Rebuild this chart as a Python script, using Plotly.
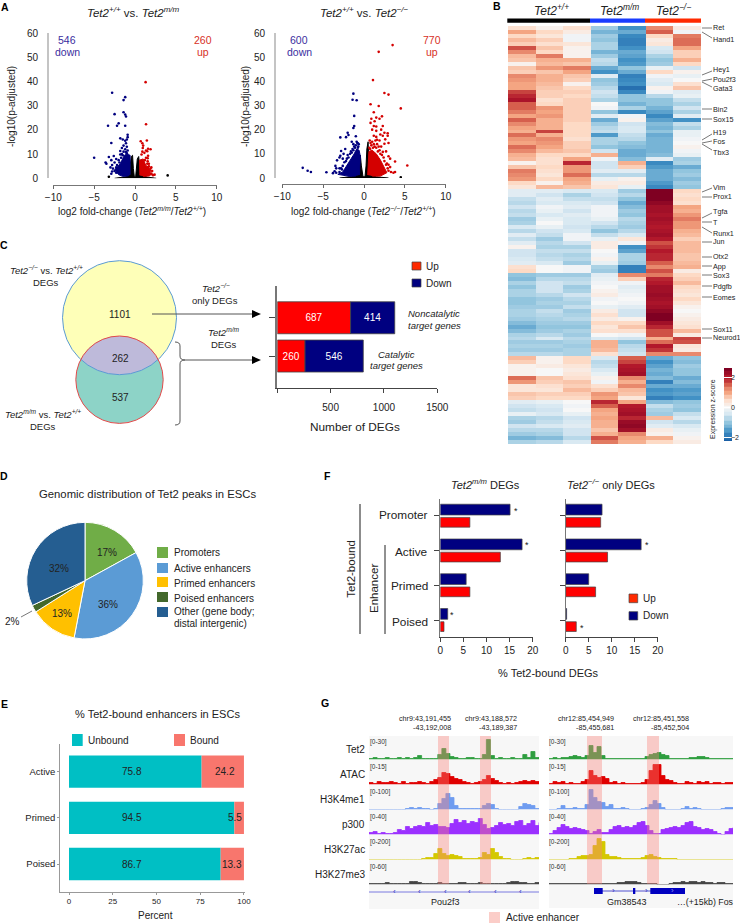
import numpy as np
import plotly.graph_objects as go

W, H = 740, 923
FONT = "Liberation Sans"
INK = "#222222"
RED = "#ff0000"
NAVY = "#000080"

# Panel A: volcano plots, dense cores are read as outlines, the rest as single points
v1_black_x = [-2.5, -1.2, -0.6, -0.6, -0.45, -0.3, -0.2, -0.08, 0.08, 0.2, 0.28, 0.45, 0.55, 0.55, 1.5, 2.6]
v1_black_y = [0, 0.6, 1.5, 5, 9, 9.5, 4, 0.6, 0.6, 4, 8, 9, 6, 1.5, 0.5, 0]
v1_blue_x = [-0.6, -0.6, -1.0, -1.3, -1.8, -2.5, -2.0, -1.5, -0.8]
v1_blue_y = [1.5, 9.5, 10, 9.5, 6, 3.5, 1.5, 0.8, 1]
v1_red_x = [0.6, 0.55, 1.0, 1.3, 1.9, 1.8, 1.0]
v1_red_y = [1.2, 7.5, 8, 5.5, 3.5, 1, 0.8]
v1_down_x = [-5, -2.8, -1.2, -1.4, -1.4, -1.2, -2.5, -1.1, -2.0, -2.2, -3.3, -1.2, -2.9, -1.8, -1.5, -0.9, -0.9, -1, -1.2, -1.1,
             -1.4, -1, -1.2, -1.6, -0.9, -1.4, -1.8, -1.1, -3.2, -2.6, -2.9, -3.6, -3.5, -2.3, -2.0, -2.5, -2.8, -2.2, -1.9, -3,
             -2.7, -2.3, -2.5, -2.8, -1.7, -1.5, -1.8, -2.1, -2.9, -2.3, -1.6, -1.0]
v1_down_y = [8.5, 35.3, 33.5, 32.3, 27.3, 26.3, 26.5, 25.5, 22.7, 21.7, 21.7, 21.7, 14.6, 16.5, 16, 18, 17, 16, 15.5, 14.5,
             13.5, 13, 12, 12.5, 11.5, 11, 11.3, 10.8, 8.8, 9.2, 7.5, 6.5, 6, 8, 7.5, 6.5, 5.5, 5.5, 6.5, 4.5,
             4, 4.5, 3, 2.8, 8.5, 9.5, 9.8, 4, 1.9, 2.3, 10, 10.3]
v1_up_x = [1.3, 1.35, 0.7, 1.45, 0.9, 1, 0.95, 1.6, 1.9, 1.35, 1.5, 0.9, 1.15, 0.8, 1.6, 1.35, 1.55, 1.2, 1.55, 1.7,
           1.5, 2, 1.9, 1.6, 2.1, 2, 2.4, 2.2, 1.9, 1.7]
v1_up_y = [39.7, 22.3, 15.3, 15.6, 14.5, 13.5, 12.5, 12.2, 12, 11.5, 11.2, 11, 10.5, 9.8, 9.3, 8.5, 8.3, 7.5, 7, 6,
           6, 4.5, 4, 4.6, 3, 2, 1.5, 1.3, 1.7, 5]
v1_ns_x = [4, -3.2]
v1_ns_y = [1.2, 0.6]

v2_black_x = [-3, -1.5, -0.6, -0.55, -0.45, -0.32, -0.12, 0.12, 0.25, 0.35, 0.5, 0.6, 0.5, 1.5, 3]
v2_black_y = [0, 0.6, 1.3, 6, 9.5, 5, 0.5, 0.5, 5, 12, 15, 6, 1.2, 0.5, 0]
v2_blue_x = [-0.55, -0.45, -0.6, -0.9, -1.2, -1.7, -2.2, -2.6, -3.2, -1.8, -1]
v2_blue_y = [1.2, 9, 11.5, 12, 10, 7.5, 5, 2.5, 1.5, 0.7, 0.8]
v2_red_x = [0.45, 0.55, 0.6, 1.0, 1.5, 2.0, 2.4, 2.8, 2, 1]
v2_red_y = [1.2, 8, 11, 11.5, 10, 7.5, 4.5, 2.2, 0.8, 0.8]
v2_down_x = [-7.5, -6.9, -6.5, -4.6, -1.3, -1.4, -0.9, -1.2, -1.2, -1.3, -2.9, -2, -1.9, -2.2, -1.0, -1.5, -1.3, -0.8, -2.3, -2.8,
             -2.5, -3, -2.9, -2.6, -2.0, -3.3, -2.2, -3.5, -3.4, -3, -2.7, -3.8, -3.6, -3.4, -3,
             -0.7, -0.8, -0.9, -0.65, -1, -1.1, -1.3, -1.5, -1.7, -1.9, -2.1, -1.2, -0.75, -1.4, -2.4, -2.6, -2.8, -1.6]
v2_down_y = [4.2, 3, 2.5, 2.4, 34.9, 32.4, 32.2, 25.7, 21.5, 20.7, 16.8, 18.7, 17.8, 16.9, 17.3, 15, 14, 14.5, 12, 11.2,
             10, 8.5, 9.2, 8, 9.5, 7.3, 7, 5, 4, 4, 3.5, 2, 2.8, 2.2, 2.5,
             13, 14.5, 15, 14, 13.5, 12.5, 11.5, 10.5, 10, 8.5, 8, 13, 12.5, 12, 6.5, 5, 4, 11]
v2_up_x = [3.5, 1.8, 1.1, 2.5, 3, 4.5, 0.8, 1.8, 1.2, 0.9, 1.5, 2.2, 1.9, 0.8, 1.3, 1.2, 1.5, 2.3, 2.1, 1,
           1.5, 1.2, 2, 2.5, 2.9, 2.9, 2.3, 2.6, 3, 2.5, 1.5, 1.9, 2.1, 2.7, 3, 3.2, 3.8, 5.3, 3.2, 3.8,
           3.6, 3.3, 3, 2.8, 0.7, 0.8, 1, 0.9, 1.2, 1.4, 1.6, 1.1, 1.5, 1.8, 1.9, 0.65, 1.3, 2, 2.2, 2.4,
           2.5, 2.7, 2.9, 3, 1.7, 2.3, 1.6, 0.75]
v2_up_y = [55, 52.2, 40.5, 35.2, 34.5, 28.8, 30.5, 29.8, 27.2, 24.5, 25, 25.5, 24.5, 22.8, 23.5, 21.5, 21.3, 21.5, 20, 20,
           19.5, 17.5, 18, 18.7, 18.5, 17.5, 17.5, 16, 14.5, 14.2, 17, 15.5, 13, 11, 9, 8, 6.8, 5.2, 4.5, 2.5,
           2.2, 2.5, 3, 6, 15.5, 14.5, 15, 13.5, 14, 15.5, 14, 12.5, 12.5, 13, 11.5, 12.5, 13, 10, 9.5, 8.5,
           7, 5.5, 4, 5.5, 11, 10.8, 15.8, 12]
v2_ns_x = [4.5]
v2_ns_y = [0.3]

# Panel B: z-scores per column, top row first
wt1 = [.4, 1.0, .5, .8, .6, 1.6, 1.2, .8, .7, .1, .7, .6, 1.2, 1.1, 1.0, 1.0, 1.7, 1.9, 2.1, 1.5, 1.5, 1.3, 1.0, 1.5, 1.2, 1.0, .9, 1.4, 1.1, 1.0,
       1.4, 1.2, .9, .8, .1, .7, 1.3, 1.2, 1.1, .5, .3, -.3, -.3, -.6, -.7, -.5, -.7, -.6, -.9, -.8,
       -.4, -.7, -.3, -.6, -.3, .1, -.5, -.5, -.4, -.3, .4, .5, -1.0, -1.1, -.8, -1.0, -.8, -.8, -1, -1, -.9, -.8, -.8, -.9, -1.1, -1.3, -1.1, -.8, -.7, -.9,
       -.8, -.9, -.7, .8, .6, .1, .1, .1, 1.4, 1.1, .3, .3, .7, .6, -.3, -.5, -.6, -.2, -.8, -.9, -.5, -.7, -.9, -1.2, -.8]
wt2 = [.1, .5, .3, .6, .4, .7, .5, 1.3, .9, .8, 1.1, .7, .9, .9, .8, .7, .6, .6, .4, .5, 1.1, 1.0, 1.1, .9, .9, .9, 1.7, .9, 1.2, 1.1,
       1.0, .8, .5, .4, .4, .5, .4, .3, .5, .1, .8, -.3, -.5, -.3, -.4, -.1, -.2, -.4, -.2, 0,
       -.2, -.5, -.6, -.9, -.7, -.8, -.6, -.7, -.6, -.4, 0, 0, -.9, -.7, -.5, -.5, -.5, -.7, -.9, -.8, -.9, -.6, -.7, -.8, -.9, -1.0, -.9, -.7, -.4, -.9,
       -.8, -.9, -.7, .1, .1, .2, 0, 0, .7, .6, .4, .3, .6, .5, -.2, -.4, -.5, -.4, -.7, -.6, -.4, -.7, -.8, -1.1, -.7]
wt3 = [.4, .2, -.1, -.1, .3, .1, .1, .1, .9, .7, 1.3, 1.0, .7, .6, .1, .5, .6, .5, .6, .6, .6, .6, .6, .6, .5, .5, .5, .5, .4, .6,
       .6, .7, .5, 1.0, 1.9, 1.1, 1.1, 1.4, 1.0, .9, .7, -.4, -.8, -.6, -.4, -.3, -.5, -.3, -.4, -.4,
       -.5, -.4, -.1, -.1, -.5, -.8, -.6, -.8, -.7, -.9, -.1, -.1, -.9, -.7, -.6, -.9, -.8, -.5, -.7, -.8, -.6, -.9, -.8, -.7, -.9, -1, -.8, -.9, -.7, -.8,
       -.9, -.8, -.8, .5, .5, .3, .2, .3, .4, .7, .6, .8, .6, .5, 0, -.1, 0, -.2, -.5, -.4, -.3, -.5, -.5, -.7, -.4]
mm1 = [-.9, -1.2, -.9, -1, -.8, -.8, -1.2, -.9, -.6, -.7, -1.3, -1.6, -.3, -1.0, -.9, -.7, -.5, -.6, -.8, 0, -.1, -1.0, -.3, -1.3, -.9, -.7, -.6, -1.5, -.8, -.8,
       -1, -.5, .9, -.1, -.5, -.5, -.3, -.7, -.2, .2, .3, -.4, -.5, -.6, -.5, -.1, -.1, -.1, -.2, -.5,
       -.7, -1, -.6, -.2, .2, .2, 0, -.1, .1, -.2, -.8, -.9, -.3, -.2, -.1, 0, .1, .2, -.1, 0, -.2, .2, .4, .2, .5, .3, .4, 0, -.4, .9,
       .9, .8, .4, -.4, -.7, -.6, -.4, -.2, .1, -.1, .4, .6, 1.1, 1.0, 1.9, 1.5, 1, .9, 1, .9, .9, .7, .9, 1.6, 1.3]
mm2 = [-1.6, -1.3, -1.7, -1.8, -1.8, -1.6, -1.3, -1.4, -1.6, -1.5, -1, -1.3, -1.8, -1.7, -1.6, -2, -1.7, -1, -1, -1.2, -.8, -1.7, -.1, .1, -.5, -.4, -.4, -.6, -.7, -1,
       -1.1, -1.3, -1.3, -1.1, .9, .6, -.3, -.7, .1, .2, -.2, -.9, -.7, -1, -1.3, -1.1, -.9, -1, -.7, -.8,
       -.9, -.7, -.4, .3, -.1, -1.6, -1.4, -.8, -.8, -.9, -1.8, -1.8, 1.2, .6, -.1, -.3, -.2, -.1, 0, -.1, -.3, -.5, -.5, .1, .5, .7, .4, -.1, -.5, -1.0,
       -.7, -.6, -.5, 1.5, 1.7, 2.0, 2.1, 2.2, 1.2, .9, 1.2, .8, .7, .3, 1, 2.0, 2.1, 2.2, 1.9, 2.3, 2.4, 2.2, 1.2, 1, .9]
ko1 = [1.2, 1.5, .5, .2, .3, -.4, -.5, -.8, -1, -.9, -.2, .5, -.1, -.3, -.4, .1, -.1, -.7, -1, -1, -1.2, -1.4, -1.7, -1.4, -1.1, -1.2, -1, -1.3, -1.2, -1.2,
       -1.2, -1.2, -1.1, -.3, -1.7, -1.5, -1.3, -1.3, -1.3, -1.5, -1.7, 2.6, 2.6, 2.6, 2.4, 2.2, 2.2, 2.1, 2.2, 2.1,
       2.0, 2.1, 2.2, 2.0, 1.6, 1.8, 2.0, 1.9, 1.9, 1.5, 1.2, 1.6, 1.3, 1.9, 2.0, 2.2, 2.2, 2.3, 2.2, 2.1, 2.2, 2.4, 2.6, 2.6, 2.2, 1.9, 1.6, 1.6, .9, 1.4,
       2.0, 1.8, 1.2, -1.3, -1.6, -1.4, -1.2, -1.3, -1.1, -1.8, -1.3, -1.6, -1.5, -1.8, -1.1, -.6, -.8, -.9, .8, -.5, -.3, .2, .1, .9, .5]
ko2 = [.2, -.1, 1.3, 1.4, 1.4, 1.0, .6, .6, .9, .5, -.5, .1, -.2, 0, .4, .7, -.3, -.2, -.6, -.8, -.5, -.8, -.3, -1.6, -.6, -.8, -.2, -.2, -.1, 0,
       .1, -.1, -.2, -.9, -.8, -1.3, -1.0, -.9, -1.1, -.9, -1, .5, .4, .5, .4, 1, .9, 1.1, 1.3, 1.1,
       1.1, .9, .8, .6, .8, .8, .8, .7, .7, .8, .9, .2, .5, .6, .8, .5, .4, .3, .5, .3, .1, 0, .1, .2, .3, .4, .8, .2, 1.7, 1.6,
       .3, .2, 1.2, -1, -1.1, -.9, -1, -1, -1.3, -1.1, -1.3, -1.5, -1.4, -1.6, -1, -.9, -1, -.6, -.4, -.7, -.4, -.2, -.1, .1, .2]
heat_genes = ["Ret", "Hand1", "Hey1", "Pou2f3", "Gata3", "Bin2", "Sox15", "H19", "Fos", "Tbx3", "Vim", "Prox1", "Tgfa", "T",
              "Runx1", "Jun", "Otx2", "App", "Sox3", "Pdgfb", "Eomes", "Sox11", "Neurod1"]
scale_levels = [-2.2, -2.0, -1.8, -1.5, -1.2, -1.0, -0.7, -0.4, -0.2, 0, 0.2, 0.4, 0.7, 1.0, 1.2, 1.5, 1.8, 2.0, 2.3, 2.6]
scale_ticks = [-2, 0, 2]

# Panel C
c_groups = ["Catalytic", "Noncatalytic"]
c_up = [260, 687]
c_down = [546, 414]

# Panel D
pie_labels = ["Promoters", "Active enhancers", "Primed enhancers", "Poised enhancers", "Other (gene body;<br>distal intergenic)"]
pie_values = [17, 36, 13, 2, 32]
pie_colors = ["#70ad47", "#5b9bd5", "#ffc000", "#43682b", "#255e91"]

# Panel E
e_labels = ["Poised", "Primed", "Active"]
e_unbound = [86.7, 94.5, 75.8]
e_bound = [13.3, 5.5, 24.2]

# Panel F
f_labels = ["Poised", "Primed", "Active", "Promoter"]
f_mm_down = [1.6, 5.6, 17.7, 15.1]
f_mm_up = [0.8, 6.4, 13, 6.4]
f_ko_down = [0.2, 5, 16.4, 7.9]
f_ko_up = [2.3, 6.5, 9.1, 7.6]

# Panel G: signal height per 4 px bin
track_names = ["Tet2", "ATAC", "H3K4me1", "p300", "H3K27ac", "H3K27me3"]
track_ranges = ["[0-30]", "[0-15]", "[0-100]", "[0-40]", "[0-200]", "[0-60]"]
track_colors = ["#2e9e3f", "#e00000", "#6f9cf0", "#9b30ff", "#d4c800", "#444444"]
tet2_left = [1, 2, 1, 1, 2, 1, 1, 2, 1, 2, 1, 2, 4, 1, 1, 1, 1, 5, 11, 6, 3, 2, 1, 1, 2, 2, 1, 1, 5, 20, 4, 1, 2, 1, 1, 2, 1, 1, 5, 2, 8, 2, 1]
atac_left = [2, 1, 3, 2, 2, 3, 2, 1, 3, 1, 2, 2, 3, 2, 1, 3, 5, 7, 12, 11, 8, 6, 5, 3, 2, 1, 2, 3, 5, 9, 6, 4, 2, 1, 2, 1, 2, 3, 4, 3, 4, 3, 3]
k4me1_left = [0, 0, 0, 0, 0, 0, 0, 0, 0, 1, 2, 1, 2, 1, 1, 0, 1, 6, 11, 16, 12, 4, 1, 1, 1, 1, 1, 1, 4, 6, 5, 1, 0, 0, 0, 0, 0, 3, 6, 5, 4, 1, 1]
p300_left = [2, 3, 1, 2, 1, 1, 2, 5, 4, 8, 6, 8, 9, 8, 12, 9, 10, 8, 8, 7, 11, 15, 12, 14, 11, 13, 12, 16, 10, 6, 7, 9, 12, 10, 11, 9, 13, 14, 9, 11, 14, 9, 12]
k27ac_left = [0, 0, 0, 0, 0, 0, 0, 0, 0, 0, 0, 0, 0, 1, 2, 2, 6, 11, 6, 4, 5, 4, 3, 1, 1, 1, 1, 2, 7, 5, 11, 7, 3, 1, 1, 0, 0, 0, 1, 2, 1, 2, 1]
k27me3_left = [1, 1, 1, 1, 2, 1, 1, 1, 1, 1, 3, 3, 2, 1, 1, 1, 1, 2, 1, 1, 1, 1, 2, 2, 1, 1, 1, 2, 1, 1, 1, 1, 1, 1, 2, 3, 3, 2, 2, 1, 1, 2, 1]
tet2_right = [1, 2, 1, 2, 2, 3, 4, 3, 2, 4, 14, 7, 13, 4, 1, 1, 1, 1, 1, 1, 1, 1, 1, 1, 3, 5, 6, 7, 5, 4, 1, 1, 1, 1, 1, 2, 2, 3, 3, 2, 1, 1, 1, 1, 1, 1, 1]
atac_right = [1, 3, 2, 3, 1, 2, 1, 1, 3, 5, 14, 9, 7, 8, 6, 2, 3, 1, 2, 1, 1, 1, 1, 2, 5, 14, 20, 20, 9, 5, 4, 2, 1, 1, 3, 2, 1, 3, 2, 3, 1, 2, 2, 1, 2, 2, 1]
k4me1_right = [0, 0, 1, 4, 1, 1, 2, 1, 1, 5, 20, 12, 8, 7, 3, 5, 1, 1, 2, 1, 0, 0, 0, 1, 2, 5, 9, 6, 2, 0, 0, 0, 0, 1, 3, 1, 2, 1, 0, 0, 0, 0, 0, 1, 2, 2, 1]
p300_right = [1, 4, 7, 10, 8, 6, 7, 6, 5, 4, 1, 3, 5, 2, 2, 5, 8, 9, 7, 8, 7, 9, 12, 13, 9, 4, 1, 1, 5, 6, 7, 8, 7, 9, 12, 13, 8, 7, 5, 6, 5, 3, 1, 0, 3, 6, 7]
k27ac_right = [0, 0, 0, 0, 0, 1, 1, 3, 4, 4, 5, 14, 21, 18, 5, 3, 3, 2, 1, 1, 1, 1, 1, 2, 4, 5, 3, 2, 1, 1, 1, 1, 0, 0, 0, 0, 0, 0, 0, 0, 0, 0, 0, 0, 0, 0, 0]
k27me3_right = [1, 1, 1, 1, 1, 1, 1, 1, 1, 1, 1, 1, 1, 1, 1, 1, 1, 2, 2, 3, 3, 3, 2, 1, 1, 1, 1, 0, 0, 0, 1, 2, 2, 3, 2, 3, 3, 2, 3, 2, 2, 1, 2, 2, 1, 1, 1]
left_tracks = [tet2_left, atac_left, k4me1_left, p300_left, k27ac_left, k27me3_left]
right_tracks = [tet2_right, atac_right, k4me1_right, p300_right, k27ac_right, k27me3_right]


def fx(x):
    return x / W


def fy(y):
    return 1 - y / H


fig = go.Figure()
notes = []
shapes = []
n_axes = 0


def text(x, y, s, size=10, color=INK, anchor="center", angle=0):
    notes.append(dict(x=fx(x), y=fy(y), xref="paper", yref="paper", text=s, showarrow=False, xanchor=anchor,
                      yanchor="middle", textangle=angle, font=dict(size=size, color=color, family=FONT),
                      borderpad=0, borderwidth=0))


def line(x0, y0, x1, y1, color="#555555", width=1):
    shapes.append(dict(type="line", xref="paper", yref="paper", x0=fx(x0), y0=fy(y0), x1=fx(x1), y1=fy(y1),
                       line=dict(color=color, width=width)))


def box(x0, y0, x1, y1, fill, edge=None, layer="above"):
    shapes.append(dict(type="rect", xref="paper", yref="paper", x0=fx(x0), y0=fy(y0), x1=fx(x1), y1=fy(y1),
                       fillcolor=fill, line=dict(color=edge or fill, width=0.7 if edge else 0), layer=layer))


def poly(points, fill, edge=None, width=0):
    path = "M" + " L".join(f"{fx(px):.5f},{fy(py):.5f}" for px, py in points) + " Z"
    shapes.append(dict(type="path", xref="paper", yref="paper", path=path, fillcolor=fill,
                       line=dict(color=edge or fill, width=width)))


def axes(x0, x1, y0, y1, xopts, yopts):
    # y0 is the top pixel and y1 the bottom pixel of the plot box
    global n_axes
    n_axes += 1
    suffix = "" if n_axes == 1 else str(n_axes)
    base = dict(showgrid=False, zeroline=False, fixedrange=True)
    fig.layout[f"xaxis{suffix}"] = {**base, "domain": [fx(x0), fx(x1)], "anchor": f"y{suffix}", **xopts}
    fig.layout[f"yaxis{suffix}"] = {**base, "domain": [fy(y1), fy(y0)], "anchor": f"x{suffix}", **yopts}
    return dict(xaxis=f"x{suffix}", yaxis=f"y{suffix}")


hidden = dict(visible=False)

# Panel A
def volcano(x0, x1, y0, y1, left, bottom, black, blue, red, down, up, ns):
    ref = axes(x0, x1, y0, y1,
               dict(range=[-10, 10], tickvals=[-10, -5, 0, 5, 10], ticks="outside", ticklen=3, tickwidth=1, tickcolor="#666666",
                    showline=True, linecolor="#777777", linewidth=1, anchor="free", position=fy(bottom),
                    tickfont=dict(size=10, color=INK, family=FONT)),
               dict(range=[0, 60], tickvals=[0, 10, 20, 30, 40, 50, 60], ticks="outside", ticklen=7, tickcolor="rgba(0,0,0,0)",
                    showline=True, linecolor="#c4c4c4", linewidth=2, anchor="free", position=fx(left),
                    tickfont=dict(size=10, color=INK, family=FONT)))
    for (xs, ys), col in zip((black, blue, red), ("#000000", "#00007f", "#d40000")):
        fig.add_trace(go.Scatter(x=xs, y=ys, mode="lines", fill="toself", fillcolor=col, line=dict(color=col, width=1), **ref))
    for (xs, ys), col in zip((down, up, ns), ("#00007f", "#d40000", "#000000")):
        fig.add_trace(go.Scatter(x=xs, y=ys, mode="markers", marker=dict(color=col, size=2.6), **ref))


volcano(53.3, 216.7, 33, 178.3, 48, 185, (v1_black_x, v1_black_y), (v1_blue_x, v1_blue_y), (v1_red_x, v1_red_y),
        (v1_down_x, v1_down_y), (v1_up_x, v1_up_y), (v1_ns_x, v1_ns_y))
volcano(282.3, 445.7, 33, 178, 275, 184, (v2_black_x, v2_black_y), (v2_blue_x, v2_blue_y), (v2_red_x, v2_red_y),
        (v2_down_x, v2_down_y), (v2_up_x, v2_up_y), (v2_ns_x, v2_ns_y))

text(133, 12, "<i>Tet2<sup>+/+</sup></i> vs. <i>Tet2<sup>m/m</sup></i>", 11.5)
text(364, 12, "<i>Tet2<sup>+/+</sup></i> vs. <i>Tet2<sup>−/−</sup></i>", 11.5)
text(12, 107, "-log10(p-adjusted)", 10, angle=-90)
text(246, 107, "-log10(p-adjusted)", 10, angle=-90)
text(132, 211, "log2 fold-change (<i>Tet2<sup>m/m</sup></i>/<i>Tet2<sup>+/+</sup></i>)", 10)
text(363, 211, "log2 fold-change (<i>Tet2<sup>−/−</sup></i>/<i>Tet2<sup>+/+</sup></i>)", 10)
for x, num, word, col in [(67, "546", "down", "#3a2ea0"), (203, "260", "up", "#d7301f"), (299, "600", "down", "#3a2ea0"), (432, "770", "up", "#d7301f")]:
    text(x, 40, num, 10.5, col)
    text(x, 52, word, 10.5, col)

# Panel B
z_rows = [list(row) for row in zip(wt1, wt2, wt3, mm1, mm2, ko1, ko2, strict=True)]
heat_scale = [[0, "#1a5fa5"], [0.12, "#3f8fc4"], [0.25, "#92c5de"], [0.36, "#d4e6f1"], [0.458, "#f7f7f7"], [0.56, "#fddbc7"],
              [0.667, "#f4a582"], [0.77, "#d6604d"], [0.875, "#b2182b"], [1, "#7f0022"]]
ref = axes(508, 701, 26, 444, hidden, dict(visible=False, autorange="reversed"))
fig.add_trace(go.Heatmap(z=z_rows, zmin=-2.2, zmax=2.6, colorscale=heat_scale, showscale=False, **ref))
# colour key on its own small axes, a plotly colorbar would push the margins
ref = axes(724, 732, 368, 441, hidden,
           dict(range=[-2.2, 2.6], side="right", tickvals=scale_ticks, ticks="inside", ticklen=8, tickcolor="#ffffff", tickwidth=1,
                ticklabelstandoff=-2, tickfont=dict(size=7, color=INK, family=FONT)))
fig.add_trace(go.Heatmap(z=[[v] for v in scale_levels], y=scale_levels, zmin=-2.2, zmax=2.6, colorscale=heat_scale, showscale=False, **ref))
box(507.3, 18.5, 590, 22.7, "#000000")
box(590, 18.5, 645, 22.7, "#1a3cff")
box(645, 18.5, 701, 22.7, "#ff2a00")
text(551, 10, "<i>Tet2<sup>+/+</sup></i>", 12)
text(619, 10, "<i>Tet2<sup>m/m</sup></i>", 12)
text(673, 10, "<i>Tet2<sup>−/−</sup></i>", 12)
gene_y = [28, 40, 69, 79, 89, 109, 119, 132, 141, 153, 187, 197, 211, 222, 233, 242, 257, 266, 275, 286, 297, 329, 338]
gene_from = [28, 32, 75, 81, 82, 109, 119, 140, 143, 144, 192, 197, 218, 222, 227, 242, 257, 266, 275, 286, 297, 329, 338]
gene_to = [28, 38, 71, 79, 87, 109, 119, 134, 141, 150, 188, 197, 213, 222, 233, 242, 257, 266, 275, 286, 297, 329, 338]
for name, gy, ya, yb in zip(heat_genes, gene_y, gene_from, gene_to):
    line(702, ya, 712, yb, "#555555", 0.8)
    text(713, gy, name, 7.2, anchor="left")
text(713, 409, "Expression z-score", 7, angle=-90)

# Panel C
yc, yr, gc, gr = 317.7, 57.0, 379.7, 43.7


def circle(cy, r, fill, edge):
    shapes.append(dict(type="circle", xref="paper", yref="paper", x0=fx(119.5 - r), x1=fx(119.5 + r), y0=fy(cy - r), y1=fy(cy + r),
                       fillcolor=fill, line=dict(color=edge, width=1 if edge != fill else 0)))


circle(yc, yr, "#feffb8", "#feffb8")
circle(gc, gr, "#8dd3c7", "#8dd3c7")
half = 38.75
lens_x = np.linspace(-half, half, 40)
lens = [(119.5 + dx, gc - np.sqrt(gr**2 - dx**2)) for dx in lens_x] + [(119.5 + dx, yc + np.sqrt(yr**2 - dx**2)) for dx in lens_x[::-1]]
poly(lens, "#bebada")
circle(yc, yr, "rgba(0,0,0,0)", "#5b9bd5")
circle(gc, gr, "rgba(0,0,0,0)", "#e34a4a")
text(120, 314, "1101", 10)
text(120, 358, "262", 10)
text(120, 398, "537", 10)
text(46.7, 270, "<i>Tet2<sup>−/−</sup></i> vs. <i>Tet2<sup>+/+</sup></i>", 9.5)
text(46, 282, "DEGs", 9.5)
text(43, 414, "<i>Tet2<sup>m/m</sup></i> vs. <i>Tet2<sup>+/+</sup></i>", 9.5)
text(43, 426, "DEGs", 9.5)
line(152, 314, 253, 314, "#555555", 1)
poly([(252, 310), (261, 314), (252, 318)], "#000000")
line(185, 360, 253, 360, "#555555", 1)
poly([(252, 356), (261, 360), (252, 364)], "#000000")
shapes.append(dict(type="path", xref="paper", yref="paper", line=dict(color="#555555", width=1),
                   path=f"M{fx(175)},{fy(342)} Q{fx(180)},{fy(342)} {fx(180)},{fy(346)} L{fx(180)},{fy(356)} Q{fx(180)},{fy(360)} {fx(185)},{fy(360)} "
                        f"Q{fx(180)},{fy(360)} {fx(180)},{fy(364)} L{fx(180)},{fy(421)} Q{fx(180)},{fy(425)} {fx(175)},{fy(425)}"))
text(216, 288, "<i>Tet2<sup>−/−</sup></i>", 9.5)
text(215, 300, "only DEGs", 9.5)
text(224, 332, "<i>Tet2<sup>m/m</sup></i>", 9.5)
text(224, 344, "DEGs", 9.5)
ref = axes(277.3, 437.3, 286, 388,
           dict(range=[0, 1500], tickvals=[0, 500, 1000, 1500], ticktext=["", "500", "1000", "1500"], ticks="outside", ticklen=4, tickcolor="#444444",
                showline=True, linecolor="#444444", linewidth=1, ticklabelstandoff=6, tickfont=dict(size=10, color=INK, family=FONT)),
           dict(range=[-0.835, 1.83], type="category", categoryorder="array", categoryarray=c_groups, ticks="outside", ticklen=6, tickcolor="#444444",
                showticklabels=False, showline=True, linecolor="#777777", linewidth=2))
bar_line = dict(color="#444444", width=0.8)
fig.add_trace(go.Bar(y=c_groups, x=c_up, orientation="h", width=0.835, marker=dict(color=RED, line=bar_line), text=c_up, textposition="inside",
                     insidetextanchor="middle", textangle=0, textfont=dict(color="#ffffff", size=10, family=FONT), **ref))
fig.add_trace(go.Bar(y=c_groups, x=c_down, base=c_up, orientation="h", width=0.835, marker=dict(color=NAVY, line=bar_line), text=c_down, textposition="inside",
                     insidetextanchor="middle", textangle=0, textfont=dict(color="#ffffff", size=10, family=FONT), **ref))
text(355, 427, "Number of DEGs", 11.8)
text(434, 313, "<i>Noncatalytic</i>", 9.5)
text(434, 325, "<i>target genes</i>", 9.5)
text(397, 354, "<i>Catalytic</i>", 9.5)
text(397, 366, "<i>target genes</i>", 9.5)
box(412, 262, 421, 270, "#ff2a00", "#444444")
box(412, 279, 421, 287, NAVY, "#444444")
text(426, 266, "Up", 10, anchor="left")
text(426, 283, "Down", 10, anchor="left")

# Panel D
fig.add_trace(go.Pie(labels=pie_labels, values=pie_values, sort=False, direction="clockwise", rotation=0, textinfo="none",
                     marker=dict(colors=pie_colors, line=dict(color="#ffffff", width=1)),
                     domain=dict(x=[fx(26.7), fx(143.3)], y=[fy(639), fy(522.3)]), showlegend=False))
text(147, 494, "Genomic distribution of Tet2 peaks in ESCs", 11.3)
for (x, y), val in zip([(107, 552), (108, 604), (62, 613), (59, 568)], [pie_values[0], pie_values[1], pie_values[2], pie_values[4]]):
    text(x, y, f"{val}%", 10)
text(12, 621, f"{pie_values[3]}%", 10)
line(21, 617, 32, 611, "#555555", 0.8)
swatches = [(547, 558), (563, 573), (577, 587), (592, 602), (607, 617)]
for (sy0, sy1), col in zip(swatches, pie_colors):
    box(157, sy0, 168, sy1, col)
for y, s in zip([552, 568, 583, 598, 611, 623], pie_labels[:4] + pie_labels[4].split("<br>")):
    text(174, y, s, 10, anchor="left")

# Panel E
ref = axes(60.3, 245, 744, 891.7,
           dict(range=[-4.97, 100.6], tickvals=[0, 25, 50, 75, 100], ticks="outside", ticklen=2, tickcolor="#999999",
                showline=True, linecolor="#999999", linewidth=1, tickfont=dict(size=8, color=INK, family=FONT)),
           dict(range=[-0.6, 2.6], type="category", categoryorder="array", categoryarray=e_labels, ticks="outside", ticklen=2, tickcolor="#999999",
                showline=True, linecolor="#999999", linewidth=1, tickfont=dict(size=9.5, color=INK, family=FONT)))
fig.add_trace(go.Bar(y=e_labels, x=e_unbound, orientation="h", width=0.7, marker=dict(color="#00bfc4", line=dict(width=0)), **ref))
fig.add_trace(go.Bar(y=e_labels, x=e_bound, base=e_unbound, orientation="h", width=0.7, marker=dict(color="#f8766d", line=dict(width=0)), **ref))
text(157, 714, "% Tet2-bound enhancers in ESCs", 11)
box(72, 734, 82.7, 746, "#00bfc4")
box(174, 734, 185, 746, "#f8766d")
text(88, 740.7, "Unbound", 10, anchor="left")
text(190, 740.7, "Bound", 10, anchor="left")
text(155, 915, "Percent", 10)
for y, a, b, xb in zip([864, 817.7, 771.5], e_unbound, e_bound, [231.7, 235, 225]):
    text(132.3, y, str(a), 10)
    text(xb, y, str(b), 10)

# Panel F
def deg_bars(x0, x1, up, down):
    ref = axes(x0, x1, 499, 636.7,
               dict(range=[0, 20], tickvals=[0, 5, 10, 15, 20], ticks="outside", ticklen=4, tickcolor="#444444",
                    showline=True, linecolor="#444444", linewidth=1, tickfont=dict(size=10, color=INK, family=FONT)),
               dict(range=[-0.48, 3.48], type="category", categoryorder="array", categoryarray=f_labels, ticks="outside", ticklen=5, tickcolor="#444444",
                    showticklabels=False, showline=True, linecolor="#777777", linewidth=1.2))
    fig.add_trace(go.Bar(y=f_labels, x=up, orientation="h", width=0.28, offset=-0.33, marker=dict(color=RED, line=dict(color="#444444", width=0.7)), **ref))
    fig.add_trace(go.Bar(y=f_labels, x=down, orientation="h", width=0.31, offset=0.02, marker=dict(color=NAVY, line=dict(color="#444444", width=0.7)), **ref))


deg_bars(440.3, 532.7, f_mm_up, f_mm_down)
deg_bars(565.7, 657.7, f_ko_up, f_ko_down)
text(485.7, 484, "<i>Tet2<sup>m/m</sup></i> DEGs", 11)
text(611, 484, "<i>Tet2<sup>−/−</sup></i> only DEGs", 11)
for y, s in zip([621.7, 586, 551.7, 515], f_labels):
    text(427.7, y, s, 11.8, anchor="right")
line(360, 504, 360, 634, "#666666", 1.5)
line(385, 545, 385, 634, "#222222", 1)
text(350.7, 569, "Tet2-bound", 11.5, angle=-90)
text(374, 588, "Enhancer", 11.5, angle=-90)
for x, y in [(515.7, 511), (527, 545), (452, 615), (647, 545), (581.7, 628)]:
    text(x, y, "*", 9)
box(629, 594, 637.7, 602.7, "#ff2a00", "#444444")
box(629, 611.7, 637.7, 620, NAVY, "#444444")
text(642.7, 598, "Up", 10, anchor="left")
text(642.7, 615.7, "Down", 10, anchor="left")
text(548.7, 672.7, "% Tet2-bound DEGs", 11)

# Panel G
box(369, 736, 539, 909, "#f7f7f7", layer="below")
box(549, 736, 733, 908, "#f7f7f7", layer="below")
for row, (name, rng, col) in enumerate(zip(track_names, track_ranges, track_colors)):
    baseline = 759.5 + 25 * row
    for vals, x0, x1, lab_x in [(left_tracks[row], 369, 539, 370), (right_tracks[row], 549, 733, 548.7)]:
        ref = axes(x0, x1, baseline - 24, baseline, dict(visible=False, range=[0, len(vals) - 1]), dict(visible=False, range=[0, 24]))
        fig.add_trace(go.Scatter(x=list(range(len(vals))), y=vals, mode="lines", fill="tozeroy", fillcolor=col,
                                 line=dict(color=col, width=0.8, shape="hv"), cliponaxis=False, **ref))
        text(lab_x, baseline - 18, rng, 6.5, "#333333", anchor="left")
    text(365.3, baseline - 10, name, 10, anchor="right")
for x0, x1 in [(438, 449), (480, 491), (587, 602), (647, 659)]:
    box(x0, 736, x1, 884, "rgba(250,130,120,0.38)")

for x, a, b in [(450.7, "chr9:43,191,455", "-43,192,008"), (517, "chr9:43,188,572", "-43,189,387"),
                (614, "chr12:85,454,949", "-85,455,681"), (688.7, "chr12:85,451,558", "-85,452,504")]:
    text(x, 718, a, 7.2, anchor="right")
    text(x, 727, b, 7.2, anchor="right")
line(369, 892, 539, 892, "#7a7ae0", 1)
for x in [394, 419, 445, 470, 495, 520]:
    text(x, 891.5, "‹", 8, "#3030c0")
line(594, 891, 685, 891, "#5050d0", 1)
box(594, 888, 602.7, 894, "#0000c0")
box(633, 888, 635.3, 894, "#0000c0")
box(650.3, 888, 685, 894, "#0000c0")
for x, col in [(613, "#3030c0"), (646, "#3030c0"), (672, "#9090ff")]:
    text(x, 890.5, "›", 8, col)
text(446, 902, "Pou2f3", 9)
text(627, 902, "Gm38543", 9)
text(705.7, 902, "…(+15kb) Fos", 8.8)
box(489, 912, 500, 923, "#fbcdc8")
text(505.7, 917, "Active enhancer", 10.2, anchor="left")

# Panel letters
for s, x, y in [("A", 5, 7), ("B", 497, 6), ("C", 4, 245), ("D", 4, 476), ("E", 4, 704), ("F", 327, 476), ("G", 325, 703)]:
    text(x, y, f"<b>{s}</b>", 10.5, "#000000")

fig.update_layout(width=W, height=H, autosize=False, margin=dict(l=0, r=0, t=0, b=0, pad=0, autoexpand=False), paper_bgcolor="#ffffff",
                  plot_bgcolor="rgba(0,0,0,0)", showlegend=False, barmode="overlay", annotations=notes, shapes=shapes,
                  font=dict(family=FONT, color=INK))
fig.write_html("out.html", post_script="document.body.style.margin='0';document.body.style.overflow='hidden';",
               default_width=f"{W}px", default_height=f"{H}px", config=dict(displayModeBar=False))
